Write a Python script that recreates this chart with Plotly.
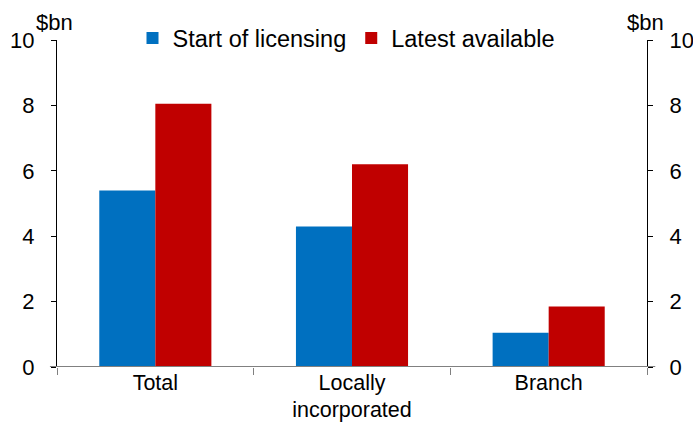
import plotly.graph_objects as go

categories = ["Total", "Locally<br>incorporated", "Branch"]
start_of_licensing = [5.4, 4.3, 1.05]
latest_available = [8.05, 6.2, 1.85]
y_ticks = [0, 2, 4, 6, 8, 10]

font = dict(family="Liberation Sans, Arial, sans-serif", size=22, color="black")

fig = go.Figure()
fig.add_trace(go.Bar(x=categories, y=start_of_licensing, name="Start of licensing",
                     marker=dict(color="#0070C0", line=dict(width=0))))
fig.add_trace(go.Bar(x=categories, y=latest_available, name="Latest available",
                     marker=dict(color="#C00000", line=dict(width=0))))
# invisible trace so the right-hand axis gets drawn
fig.add_trace(go.Scatter(x=categories, y=latest_available, yaxis="y2", mode="markers",
                         marker=dict(opacity=0), showlegend=False, hoverinfo="skip"))

fig.update_layout(
    width=693, height=425,
    margin=dict(l=57, r=46, t=40, b=58, autoexpand=False),
    paper_bgcolor="white", plot_bgcolor="white",
    font=font,
    barmode="group", bargap=0.43, bargroupgap=0,
    showlegend=True,
    legend=dict(orientation="h", x=0.5, xanchor="center", xref="container",
                y=0.91, yanchor="middle", yref="container",
                font=dict(size=23.5), itemwidth=30, traceorder="normal",
                bgcolor="rgba(0,0,0,0)"),
    xaxis=dict(showline=False, ticks="outside", automargin=False,
               tickson="boundaries", ticklen=7, tickcolor="#808080", tickwidth=1,
               showgrid=False, zeroline=False, tickfont=dict(font, size=21.5),
               ticklabelstandoff=0),
    yaxis=dict(range=[0, 10], tickvals=y_ticks, showline=True, linecolor="black",
               linewidth=1, ticks="outside", ticklen=5, tickcolor="black",
               showgrid=False, zeroline=False, tickfont=font, ticklabelstandoff=12,
               automargin=False),
    yaxis2=dict(range=[0, 10], tickvals=y_ticks, overlaying="y", side="right",
                showline=True, linecolor="black", linewidth=1, ticks="outside",
                ticklen=5, tickcolor="black", showgrid=False, zeroline=False,
                tickfont=font, ticklabelstandoff=12, automargin=False),
    shapes=[
        dict(type="line", xref="paper", yref="y", x0=-0.012, x1=1.014, y0=0, y1=0,
             line=dict(color="#808080", width=2)),
    ],
    annotations=[
        dict(text="$bn", x=-0.005, y=1.055, xref="paper", yref="paper", xanchor="center",
             yanchor="middle", showarrow=False, font=font),
        dict(text="$bn", x=0.997, y=1.055, xref="paper", yref="paper", xanchor="center",
             yanchor="middle", showarrow=False, font=font),
    ],
)

fig.write_html("out.html", config={"displayModeBar": False},
               post_script="document.body.style.margin='0';")
